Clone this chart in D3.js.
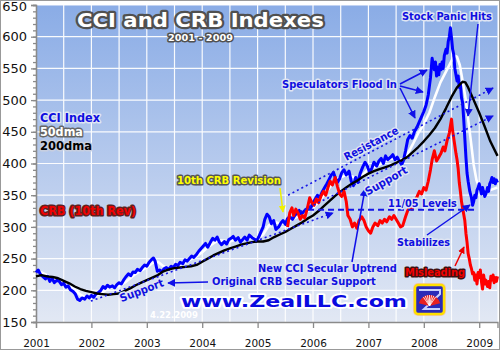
<!DOCTYPE html>
<html>
<head>
<meta charset="utf-8">
<script src="https://cdn.jsdelivr.net/npm/d3@7"></script>
<style>
  body { margin: 0; background: #fff; }
  svg { display: block; }
  text { font-family: "DejaVu Sans", Verdana, sans-serif; }
</style>
</head>
<body>
<script>
// CCI weekly-ish readings (decimal year, index level)
const cciDates = [2001.00,2001.04,2001.08,2001.12,2001.17,2001.21,2001.25,2001.29,2001.33,2001.38,2001.42,2001.46,2001.50,2001.54,2001.58,2001.62,2001.67,2001.71,2001.75,2001.79,2001.83,2001.88,2001.92,2001.96,
  2002.00,2002.04,2002.08,2002.12,2002.17,2002.21,2002.25,2002.29,2002.33,2002.38,2002.42,2002.46,2002.50,2002.54,2002.58,2002.62,2002.67,2002.71,2002.75,2002.79,2002.83,2002.88,2002.92,2002.96,
  2003.00,2003.04,2003.08,2003.12,2003.15,2003.19,2003.23,2003.27,2003.31,2003.35,2003.40,2003.44,2003.48,2003.52,2003.56,2003.60,2003.65,2003.69,2003.73,2003.77,2003.81,2003.85,2003.90,2003.94,2003.98,
  2004.02,2004.06,2004.10,2004.15,2004.19,2004.23,2004.27,2004.31,2004.35,2004.40,2004.44,2004.48,2004.52,2004.56,2004.60,2004.65,2004.69,2004.73,2004.77,2004.81,2004.85,2004.90,2004.94,2004.98,
  2005.02,2005.06,2005.10,2005.13,2005.17,2005.21,2005.25,2005.29,2005.33,2005.38,2005.42,2005.46,2005.50,2005.54,2005.58,2005.63,2005.67,2005.71,2005.75,2005.79,2005.83,2005.88,2005.92,2005.96,
  2006.00,2006.04,2006.08,2006.12,2006.17,2006.21,2006.25,2006.29,2006.33,2006.37,2006.40,2006.44,2006.48,2006.52,2006.56,2006.60,2006.65,2006.69,2006.73,2006.77,2006.81,2006.85,2006.90,2006.94,2006.98,
  2007.02,2007.06,2007.10,2007.15,2007.19,2007.23,2007.27,2007.31,2007.35,2007.40,2007.44,2007.48,2007.52,2007.56,2007.60,2007.63,2007.67,2007.71,2007.75,2007.79,2007.83,2007.88,2007.92,2007.96,
  2008.00,2008.04,2008.08,2008.12,2008.15,2008.17,2008.19,2008.21,2008.23,2008.25,2008.27,2008.29,2008.31,2008.33,2008.35,2008.37,2008.40,2008.42,2008.44,2008.46,2008.48,2008.50,2008.52,2008.54,2008.56,2008.58,2008.60,2008.62,2008.64,2008.66,2008.68,2008.70,2008.72,2008.74,2008.76,2008.78,2008.80,2008.83,2008.86,2008.88,2008.90,2008.92,2008.94,2008.96,2008.98,
  2009.00,2009.02,2009.04,2009.06,2009.08,2009.10,2009.12,2009.15,2009.17,2009.19,2009.21,2009.23,2009.25,2009.27,2009.29,2009.31,2009.33];
const cciValues = [228,232,225,222,218,222,214,219,212,216,214,209,211,205,207,201,198,194,186,184,188,186,191,188,
  192,189,194,196,200,206,203,208,205,207,204,209,212,210,216,221,226,223,229,228,233,231,236,240,
  238,244,248,251,246,230,232,229,234,236,233,238,236,241,239,244,242,248,246,250,254,252,257,262,266,
  270,274,268,276,282,279,284,276,272,277,273,280,282,285,279,283,276,280,284,279,287,283,281,278,
  284,292,300,312,320,316,305,310,296,300,306,310,304,313,316,312,318,322,326,320,324,328,332,330,
  338,344,350,346,356,362,368,375,382,386,378,370,376,386,390,382,388,372,365,378,370,384,395,402,396,
  386,392,402,396,404,408,400,412,406,410,414,406,410,404,398,404,420,438,444,440,450,458,466,474,
  482,492,508,535,566,556,548,560,538,552,540,556,548,560,550,570,580,574,592,600,614,598,580,572,550,540,530,538,520,526,504,496,470,440,410,385,372,356,346,334,340,350,346,358,362,
  368,360,352,362,356,348,352,362,356,368,372,378,370,376,368,374,370];

// CRB 10th revision
const crbDates = [2005.54,2005.58,2005.62,2005.65,2005.69,2005.73,2005.77,2005.81,2005.85,2005.90,2005.94,2005.98,
  2006.02,2006.06,2006.10,2006.15,2006.19,2006.23,2006.27,2006.31,2006.35,2006.40,2006.44,2006.48,2006.52,2006.56,2006.60,2006.63,2006.67,2006.71,2006.75,2006.79,2006.83,2006.88,2006.92,2006.96,
  2007.00,2007.04,2007.08,2007.12,2007.17,2007.21,2007.25,2007.29,2007.33,2007.38,2007.42,2007.46,2007.50,2007.54,2007.58,2007.62,2007.67,2007.71,2007.75,2007.79,2007.83,2007.88,2007.92,2007.96,
  2008.00,2008.04,2008.08,2008.12,2008.15,2008.19,2008.23,2008.27,2008.31,2008.35,2008.38,2008.42,2008.46,2008.50,2008.52,2008.54,2008.56,2008.58,2008.60,2008.62,2008.64,2008.66,2008.68,2008.70,2008.72,2008.74,2008.76,2008.78,2008.80,2008.82,2008.84,2008.86,2008.88,2008.90,2008.92,2008.94,2008.96,2008.98,
  2009.00,2009.02,2009.04,2009.06,2009.08,2009.10,2009.12,2009.15,2009.17,2009.19,2009.21,2009.23,2009.25,2009.27,2009.29,2009.31,2009.33];
const crbValues = [300,322,330,318,328,322,312,318,314,330,346,338,
  334,344,338,350,356,350,362,372,366,378,364,352,348,356,340,318,312,300,306,298,310,316,310,300,
  294,290,300,306,302,310,306,312,308,316,312,318,312,306,300,302,316,326,332,328,340,348,356,352,
  362,358,372,390,406,420,404,410,416,426,420,436,448,470,452,440,428,416,406,392,370,356,340,330,320,310,290,276,258,250,240,234,226,228,216,224,210,228,
  220,232,214,202,224,210,216,206,214,204,222,216,224,212,220,214,222];

// 50-day moving average of CCI
const ma50Dates = [2001.00,2001.10,2001.20,2001.30,2001.40,2001.50,2001.60,2001.70,2001.80,2001.90,
  2002.00,2002.10,2002.20,2002.30,2002.40,2002.50,2002.60,2002.70,2002.80,2002.90,
  2003.00,2003.10,2003.20,2003.30,2003.40,2003.50,2003.60,2003.70,2003.80,2003.90,
  2004.00,2004.10,2004.20,2004.30,2004.40,2004.50,2004.60,2004.70,2004.80,2004.90,
  2005.00,2005.10,2005.20,2005.30,2005.40,2005.50,2005.60,2005.70,2005.80,2005.90,
  2006.00,2006.10,2006.20,2006.30,2006.40,2006.50,2006.60,2006.70,2006.80,2006.90,
  2007.00,2007.10,2007.20,2007.30,2007.40,2007.50,2007.60,2007.70,2007.80,2007.90,
  2008.00,2008.10,2008.20,2008.30,2008.40,2008.50,2008.56,2008.60,2008.65,2008.70,2008.75,2008.80,2008.85,2008.90,2008.95,
  2009.00,2009.10,2009.20,2009.33];
const ma50Values = [230,228,224,219,215,212,207,201,193,188,
  189,192,197,203,206,207,212,219,226,231,
  236,243,245,238,234,236,240,244,249,254,
  260,268,274,279,278,277,280,281,281,283,
  282,288,302,308,305,306,311,315,320,325,
  330,340,350,362,374,378,382,380,376,382,
  392,394,398,404,407,408,406,414,430,448,
  462,480,505,528,545,562,570,568,555,530,505,470,435,398,374,
  362,358,358,362];

// 200-day moving average of CCI
const ma200Dates = [2001.00,2001.10,2001.20,2001.30,2001.40,2001.50,2001.60,2001.70,2001.80,2001.90,
  2002.00,2002.10,2002.20,2002.30,2002.40,2002.50,2002.60,2002.70,2002.80,2002.90,
  2003.00,2003.10,2003.20,2003.30,2003.40,2003.50,2003.60,2003.70,2003.80,2003.90,
  2004.00,2004.10,2004.20,2004.30,2004.40,2004.50,2004.60,2004.70,2004.80,2004.90,
  2005.00,2005.10,2005.20,2005.30,2005.40,2005.50,2005.60,2005.70,2005.80,2005.90,
  2006.00,2006.10,2006.20,2006.30,2006.40,2006.50,2006.60,2006.70,2006.80,2006.90,
  2007.00,2007.10,2007.20,2007.30,2007.40,2007.50,2007.60,2007.70,2007.80,2007.90,
  2008.00,2008.10,2008.20,2008.30,2008.40,2008.50,2008.60,2008.70,2008.75,2008.80,2008.90,
  2009.00,2009.10,2009.20,2009.33];
const ma200Values = [222,224,222,221,219,215,211,206,202,199,
  197,195,194,193,194,195,199,203,208,212,
  216,220,224,230,233,235,236,237,238,240,
  245,250,255,259,263,266,269,272,274,276,
  277,277,279,284,288,292,297,302,307,313,
  318,325,333,341,349,356,362,368,373,379,
  384,388,391,394,397,401,405,410,418,426,
  435,445,456,470,487,505,520,529,528,520,500,
  480,458,435,412];

const yearTicks = [2001,2002,2003,2004,2005,2006,2007,2008,2009];
const valueTicks = [150,200,250,300,350,400,450,500,550,600,650];

// trend lines [start year, start value, end year, end value]
const resistanceLine = [2005.55, 350, 2009.25, 519];
const supportLine = [2005.77, 324, 2009.25, 475];
const crbSupportLine = [2001.99, 183, 2006.36, 322];
const level1105 = 327;
const level1105Span = [2005.91, 2008.96];

const W = 500, H = 350;
const plotL = 36, plotR = 497.5, plotT = 5, plotB = 322;

const svg = d3.select("body").append("svg")
  .attr("width", W).attr("height", H);

const defs = svg.append("defs");
const grad = defs.append("linearGradient").attr("id", "bg")
  .attr("x1", 0).attr("y1", 0).attr("x2", 0).attr("y2", 1);
grad.append("stop").attr("offset", "0%").attr("stop-color", "#8aace6");
grad.append("stop").attr("offset", "100%").attr("stop-color", "#e2e8f4");

function marker(id, color, size) {
  defs.append("marker").attr("id", id)
    .attr("viewBox", "0 0 10 10").attr("refX", 9).attr("refY", 5)
    .attr("markerUnits", "userSpaceOnUse")
    .attr("markerWidth", size).attr("markerHeight", size)
    .attr("orient", "auto")
    .append("path").attr("d", "M0,0 L10,5 L0,10 z").attr("fill", color);
}
marker("ahBlue", "#1010e8", 8);
marker("ahRed", "#ee0000", 7);
marker("ahYellow", "#f0f000", 7);

svg.append("rect").attr("x", 0).attr("y", 0).attr("width", W).attr("height", H).attr("fill", "#fff");

const x = d3.scaleLinear().domain([2001, 2009.33]).range([plotL, plotR]);
const y = d3.scaleLinear().domain([150, 650]).range([plotB, plotT]);

svg.append("rect")
  .attr("x", plotL).attr("y", plotT)
  .attr("width", plotR - plotL).attr("height", plotB - plotT)
  .attr("fill", "url(#bg)");

// grid
const grid = svg.append("g").attr("stroke", "#fff").attr("stroke-width", 1.2).attr("opacity", 0.95);
grid.selectAll("line.h").data(valueTicks.filter(v => v > 150))
  .enter().append("line")
  .attr("x1", plotL).attr("x2", plotR)
  .attr("y1", d => y(d)).attr("y2", d => y(d));
grid.selectAll("line.v").data(d3.range(2001.5, 2009.3, 0.5))
  .enter().append("line")
  .attr("y1", plotT).attr("y2", plotB)
  .attr("x1", d => x(d)).attr("x2", d => x(d));

// axes
const yMinor = svg.append("g").attr("transform", `translate(${plotL},0)`)
  .call(d3.axisLeft(y).tickValues(d3.range(150, 651, 10)).tickSize(3).tickFormat(""));
const yAxis = svg.append("g").attr("transform", `translate(${plotL},0)`)
  .call(d3.axisLeft(y).tickValues(valueTicks).tickSize(5).tickPadding(4));
const xAxis = svg.append("g").attr("transform", `translate(0,${plotB})`)
  .call(d3.axisBottom(x).tickValues(yearTicks).tickFormat(d3.format("d")).tickSize(6).tickPadding(12));
[yMinor, yAxis, xAxis].forEach(g => {
  g.selectAll("path,line").attr("stroke", "#8a8a8a").attr("stroke-width", 1.3);
  g.selectAll("text").attr("fill", "#111")
    .attr("font-family", "'DejaVu Sans', Verdana, sans-serif");
});
yAxis.selectAll("text").attr("font-size", 13);
yAxis.selectAll("text").filter(d => d === 650).attr("dy", "0.45em");
xAxis.selectAll("text").attr("font-size", 10.5);

// series
const line = d3.line().x(d => x(d[0])).y(d => y(d[1]));
function drawSeries(dates, values, color, width) {
  svg.append("path").datum(d3.zip(dates, values))
    .attr("d", line).attr("fill", "none")
    .attr("stroke", color).attr("stroke-width", width)
    .attr("stroke-linejoin", "round");
}
drawSeries(ma50Dates, ma50Values, "#ffffff", 2.6);
drawSeries(cciDates, cciValues, "#0000ff", 3);
drawSeries(ma200Dates, ma200Values, "#000000", 2.4);
drawSeries(crbDates, crbValues, "#ff0000", 3);

// trend lines
function trend(t, dash, w, mark) {
  svg.append("line")
    .attr("x1", x(t[0])).attr("y1", y(t[1]))
    .attr("x2", x(t[2])).attr("y2", y(t[3]))
    .attr("stroke", "#1515e6").attr("stroke-width", w)
    .attr("stroke-dasharray", dash)
    .attr("marker-end", mark ? "url(#ahBlue)" : null);
}
trend(resistanceLine, "2,3", 1.6, true);
trend(supportLine, "2,3", 1.6, true);
trend(crbSupportLine, "2,3", 1.6, true);
trend([level1105Span[0], level1105, level1105Span[1], level1105], "6,4", 2, false);

// arrows
function arrow(x1, y1, x2, y2, color, m) {
  svg.append("line").attr("x1", x1).attr("y1", y1).attr("x2", x2).attr("y2", y2)
    .attr("stroke", color).attr("stroke-width", 1.5)
    .attr("marker-end", `url(#${m})`);
}
arrow(478, 24, 468, 116, "#1010e8", "ahBlue");
arrow(400, 84, 427, 70, "#1010e8", "ahBlue");
arrow(400, 86, 423, 92, "#1010e8", "ahBlue");
arrow(400, 88, 415, 118, "#1010e8", "ahBlue");
arrow(352, 262, 365, 189, "#1010e8", "ahBlue");
arrow(208, 282, 168, 283, "#1010e8", "ahBlue");
arrow(427, 235, 470, 205, "#1010e8", "ahBlue");
arrow(455, 266, 464, 247, "#ee0000", "ahRed");
arrow(280, 188, 283, 212, "#f0f000", "ahYellow");

// labels: measured, then squeezed horizontally to the width seen in the picture
function label(txt, x0, yb, len, opts) {
  const o = Object.assign({ size: 11, fill: "#1010e0", stroke: "#dfe5f3", sw: 3, rot: 0, anchor: "start" }, opts);
  const t = svg.append("text")
    .attr("x", 0).attr("y", 0)
    .attr("font-size", o.size).attr("font-weight", "bold")
    .attr("fill", o.fill).attr("stroke", o.stroke).attr("stroke-width", o.sw)
    .attr("stroke-linejoin", "round").attr("paint-order", "stroke")
    .attr("text-anchor", o.anchor)
    .text(txt);
  const natural = t.node().getComputedTextLength();
  const sx = len / natural;
  t.attr("transform", `translate(${x0},${yb}) rotate(${o.rot}) scale(${sx},1)`)
    .attr("stroke-width", o.sw);
  return t;
}

label("CCI and CRB Indexes", 77, 27, 247, { size: 20, fill: "#fff", stroke: "#505050", sw: 4.5 });
label("2001 - 2009", 168, 41, 65, { size: 9.5, fill: "#fff", stroke: "#505050", sw: 3 });

label("CCI Index", 40, 122, 60, { size: 12 });
label("50dma", 40, 136, 43, { size: 12, fill: "#fff", stroke: "#666", sw: 3 });
label("200dma", 40, 150, 52, { size: 12, fill: "#000", stroke: "#c8cfe0", sw: 3 });
label("CRB (10th Rev)", 40, 215, 96, { size: 12, fill: "#f00000", stroke: "#602020", sw: 3 });

label("Stock Panic Hits", 402, 20, 90);
label("Speculators Flood In", 282, 88, 115);
label("Resistance", 373, 147, 60, { anchor: "middle", rot: -28 });
label("Support", 388, 184, 47, { anchor: "middle", rot: -30 });
label("10th CRB Revision", 177, 184, 104, { fill: "#ffff00", stroke: "#555", sw: 3 });
label("11/05 Levels", 388, 207, 69);
label("Stabilizes", 397, 246, 53);
label("New CCI Secular Uptrend", 258, 272, 139);
label("Original CRB Secular Support", 212, 285, 164);
label("Support", 143, 294, 46, { anchor: "middle", rot: -21 });
label("Misleading", 405, 276, 60, { fill: "#f00000", stroke: "#401010", sw: 3 });
label("www.ZealLLC.com", 181, 307, 226, { size: 16.5, fill: "#0a0ae0", stroke: "#fff", sw: 3.5 });
label("4.22.2009", 150, 318, 48, { size: 9.5, fill: "#fff", stroke: "none", sw: 0 });

// logo
const logo = svg.append("g").attr("transform", "translate(415,285)");
logo.append("rect").attr("x", -2).attr("y", -2).attr("width", 33).attr("height", 33).attr("rx", 5)
  .attr("fill", "#f8b89a").attr("opacity", 0.7);
logo.append("rect").attr("x", 0).attr("y", 0).attr("width", 29).attr("height", 29).attr("rx", 3)
  .attr("fill", "#2a2ab8").attr("stroke", "#ffe000").attr("stroke-width", 2.5);
logo.append("path").attr("d", "M4,5 L25,5 L25,9 L9,24 L25,24")
  .attr("fill", "none").attr("stroke", "#c8d0ff").attr("stroke-width", 2);
const fan = d3.arc().innerRadius(0).outerRadius(11).startAngle(-Math.PI * 0.42).endAngle(Math.PI * 0.42);
logo.append("path").attr("d", fan()).attr("transform", "translate(14.5,21)").attr("fill", "#e82020");
d3.range(-3, 4).forEach(i => {
  const a = i * 0.2;
  logo.append("line").attr("x1", 14.5).attr("y1", 21)
    .attr("x2", 14.5 + 11 * Math.sin(a)).attr("y2", 21 - 11 * Math.cos(a))
    .attr("stroke", "#fff").attr("stroke-width", 0.8);
});

// frame
svg.append("rect").attr("x", 0.5).attr("y", 0.5).attr("width", W - 1).attr("height", H - 1)
  .attr("fill", "none").attr("stroke", "#999").attr("stroke-width", 1);
</script>
</body>
</html>
